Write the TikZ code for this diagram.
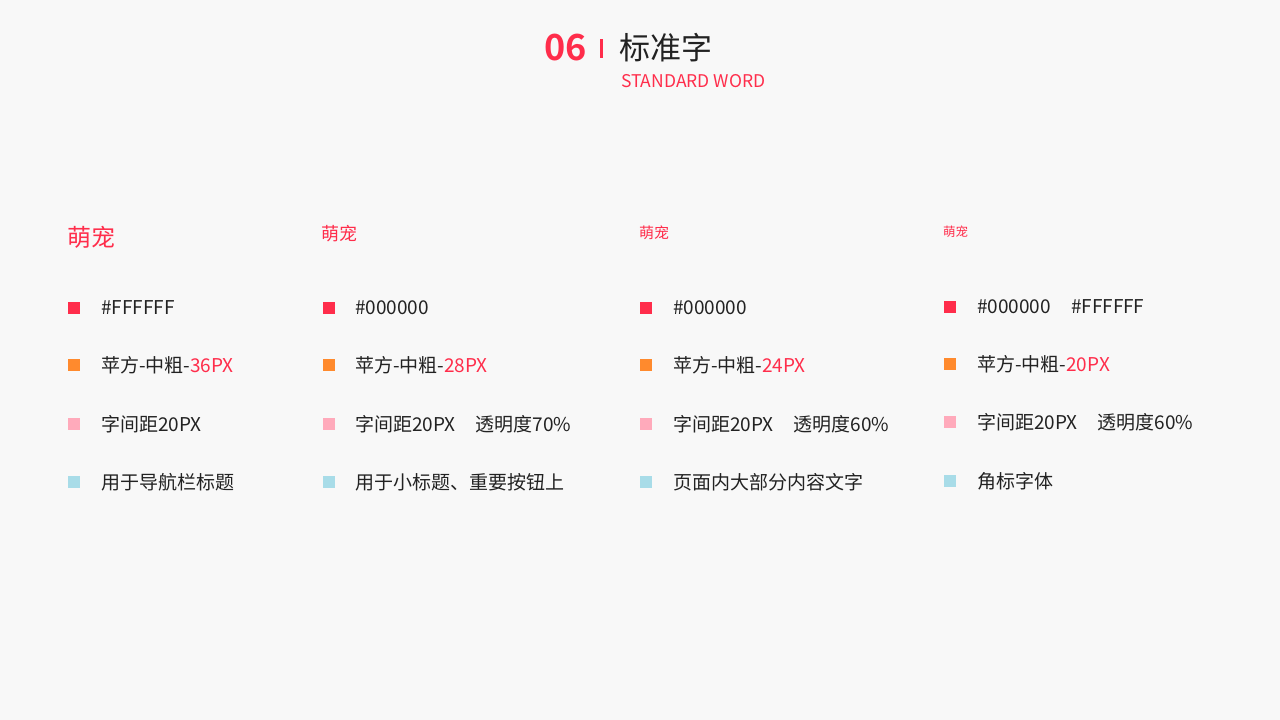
\documentclass[tikz,border=0pt]{standalone}
\usepackage{fontspec}
\setmainfont{Noto Sans CJK SC}
\newfontfamily\cjkb{Noto Sans CJK SC Bold}
\definecolor{bg}{HTML}{F8F8F8}
\definecolor{myred}{HTML}{FF2D4B}
\definecolor{myorange}{HTML}{FF8A2D}
\definecolor{mypink}{HTML}{FFAABB}
\definecolor{myblue}{HTML}{A8DCE8}
\definecolor{txt}{HTML}{222222}
\begin{document}
\begin{tikzpicture}[x=1pt,y=-1pt,
  lbl/.style={anchor=west,inner sep=0pt,text=txt,font=\fontsize{19}{19}\selectfont},
  sq/.style={minimum size=12pt,inner sep=0pt,fill=#1}]
\fill[bg] (0,0) rectangle (1280,720);
\useasboundingbox (0,0) rectangle (1280,720);
\node[anchor=west,inner sep=0pt,text=myred,font=\cjkb\fontsize{36}{36}\selectfont] (num) at (544,48) {06};
\fill[myred] (599.5,39) rectangle (602.5,58);
\node[anchor=west,inner sep=0pt,text=txt,font=\fontsize{31}{31}\selectfont] (ttl) at (619,48) {标准字};
\node[anchor=west,inner sep=0pt,text=myred,font=\fontsize{17.5}{17.5}\selectfont] (sub) at (621,81) {STANDARD WORD};
% headings
\node[anchor=west,inner sep=0pt,text=myred,font=\fontsize{24}{24}\selectfont] (h1) at (67,237) {萌宠};
\node[anchor=west,inner sep=0pt,text=myred,font=\fontsize{18}{18}\selectfont] (h2) at (321,234) {萌宠};
\node[anchor=west,inner sep=0pt,text=myred,font=\fontsize{15}{15}\selectfont] (h3) at (639,233) {萌宠};
\node[anchor=west,inner sep=0pt,text=myred,font=\fontsize{12.5}{12.5}\selectfont] (h4) at (943,232) {萌宠};
% column 1
\node[sq=myred] (a1) at (74,308) {};
\node[sq=myorange] (a2) at (74,365) {};
\node[sq=mypink] (a3) at (74,424) {};
\node[sq=myblue] (a4) at (74,482) {};
\node[lbl] (at1) at (101,308) {\#FFFFFF};
\node[lbl] (at2) at (101,365) {苹方-中粗-\textcolor{myred}{36PX}};
\node[lbl] (at3) at (101,424) {字间距20PX};
\node[lbl] (at4) at (101,482) {用于导航栏标题};
% column 2
\node[sq=myred] (b1) at (329,308) {};
\node[sq=myorange] (b2) at (329,365) {};
\node[sq=mypink] (b3) at (329,424) {};
\node[sq=myblue] (b4) at (329,482) {};
\node[lbl] (bt1) at (355,308) {\#000000};
\node[lbl] (bt2) at (355,365) {苹方-中粗-\textcolor{myred}{28PX}};
\node[lbl] (bt3) at (355,424) {字间距20PX\hspace{20pt}透明度70\%};
\node[lbl] (bt4) at (355,482) {用于小标题、重要按钮上};
% column 3
\node[sq=myred] (c1) at (646,308) {};
\node[sq=myorange] (c2) at (646,365) {};
\node[sq=mypink] (c3) at (646,424) {};
\node[sq=myblue] (c4) at (646,482) {};
\node[lbl] (ct1) at (673,308) {\#000000};
\node[lbl] (ct2) at (673,365) {苹方-中粗-\textcolor{myred}{24PX}};
\node[lbl] (ct3) at (673,424) {字间距20PX\hspace{20pt}透明度60\%};
\node[lbl] (ct4) at (673,482) {页面内大部分内容文字};
% column 4
\node[sq=myred] (d1) at (950,307) {};
\node[sq=myorange] (d2) at (950,364) {};
\node[sq=mypink] (d3) at (950,422) {};
\node[sq=myblue] (d4) at (950,481) {};
\node[lbl] (dt1) at (977,307) {\#000000\hspace{20pt}\#FFFFFF};
\node[lbl] (dt2) at (977,364) {苹方-中粗-\textcolor{myred}{20PX}};
\node[lbl] (dt3) at (977,422) {字间距20PX\hspace{20pt}透明度60\%};
\node[lbl] (dt4) at (977,481) {角标字体};
\end{tikzpicture}
\end{document}
